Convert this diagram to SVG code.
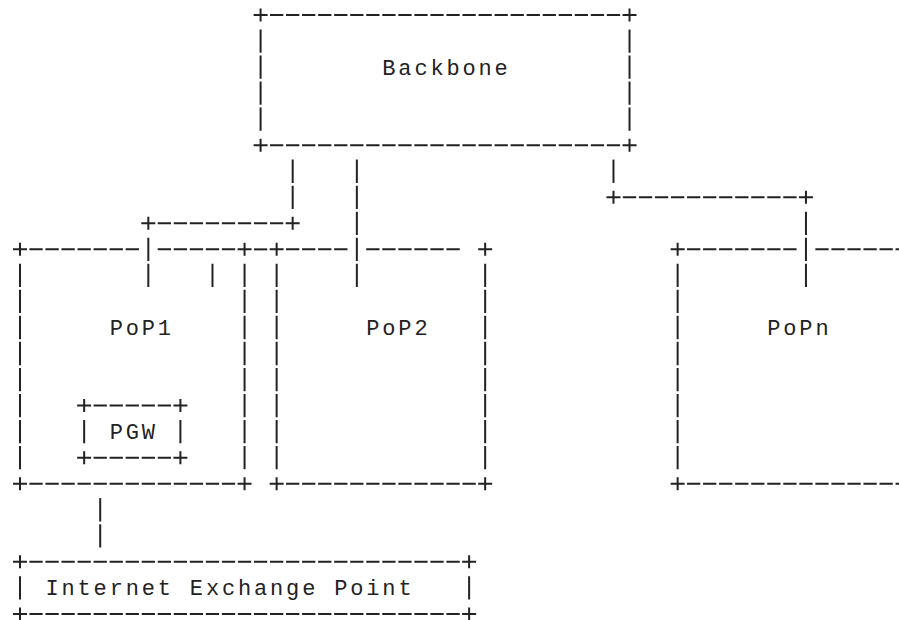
<svg xmlns="http://www.w3.org/2000/svg" xmlns:xlink="http://www.w3.org/1999/xlink" width="899" height="620" viewBox="0 0 899 620">
<style>
.h{stroke:#222;stroke-width:2;fill:none;stroke-dasharray:13.3 2.74}
.v{stroke:#222;stroke-width:2;fill:none;stroke-dasharray:23.3 2.74}
.p{stroke:#222;stroke-width:2;fill:none}
.t{font-family:"Liberation Mono","DejaVu Sans Mono",monospace;font-size:22px;letter-spacing:2.84px;fill:#222}
</style>
<defs>
<path id="plus" class="p" d="M-7 0H7M0-6.5V6.5"/>
</defs>
<rect width="899" height="620" fill="#fff"/>
<g id="connectors">
<!-- Backbone to PoP1 -->
<line class="v" x1="292.68" y1="159.59" x2="292.68" y2="208.93"/>
<use href="#plus" x="292.68" y="223.32"/>
<line class="h" x1="157.71" y1="223.32" x2="285.33" y2="223.32"/>
<use href="#plus" x="148.32" y="223.32"/>
<line class="v" x1="148.32" y1="237.71" x2="148.32" y2="287.05"/>
<!-- Backbone to PoP2 -->
<line class="v" x1="356.84" y1="159.59" x2="356.84" y2="287.05"/>
<!-- Backbone to PoPn -->
<line class="v" x1="613.48" y1="159.59" x2="613.48" y2="182.89"/>
<use href="#plus" x="613.48" y="197.28"/>
<line class="h" x1="622.87" y1="197.28" x2="796.57" y2="197.28"/>
<use href="#plus" x="805.96" y="197.28"/>
<line class="v" x1="805.96" y1="211.67" x2="805.96" y2="287.05"/>
<!-- PoP1 to IXP -->
<line class="v" x1="100.2" y1="498.11" x2="100.2" y2="547.45"/>
<!-- joining dash between PoP1 and PoP2 -->
<line class="h" x1="253.95" y1="249.36" x2="267.25" y2="249.36"/>
</g>
<g id="backbone">
<use href="#plus" x="260.6" y="15"/>
<use href="#plus" x="629.52" y="15"/>
<use href="#plus" x="260.6" y="145.2"/>
<use href="#plus" x="629.52" y="145.2"/>
<line class="h" x1="269.99" y1="15" x2="620.13" y2="15"/>
<line class="h" x1="269.99" y1="145.2" x2="620.13" y2="145.2"/>
<line class="v" x1="260.6" y1="29.39" x2="260.6" y2="130.81"/>
<line class="v" x1="629.52" y1="29.39" x2="629.52" y2="130.81"/>
<text class="t" x="382.3" y="74.6">Backbone</text>
</g>
<g id="pop1">
<use href="#plus" x="20" y="249.36"/>
<use href="#plus" x="244.56" y="249.36"/>
<use href="#plus" x="20" y="483.72"/>
<use href="#plus" x="244.56" y="483.72"/>
<line class="h" x1="29.39" y1="249.36" x2="139.0" y2="249.36"/>
<line class="h" x1="157.71" y1="249.36" x2="235.17" y2="249.36"/>
<line class="h" x1="29.39" y1="483.72" x2="235.17" y2="483.72"/>
<line class="v" x1="20" y1="263.75" x2="20" y2="469.33"/>
<line class="v" x1="244.56" y1="263.75" x2="244.56" y2="469.33"/>
<line class="v" x1="212.48" y1="263.75" x2="212.48" y2="287.05"/>
<text class="t" x="109.64" y="335">PoP1</text>
</g>
<g id="pgw">
<use href="#plus" x="84.16" y="405.6"/>
<use href="#plus" x="180.4" y="405.6"/>
<use href="#plus" x="84.16" y="457.68"/>
<use href="#plus" x="180.4" y="457.68"/>
<line class="h" x1="93.55" y1="405.6" x2="171.01" y2="405.6"/>
<line class="h" x1="93.55" y1="457.68" x2="171.01" y2="457.68"/>
<line class="v" x1="84.16" y1="419.99" x2="84.16" y2="443.29"/>
<line class="v" x1="180.4" y1="419.99" x2="180.4" y2="443.29"/>
<text class="t" x="109.64" y="439.1">PGW</text>
</g>
<g id="pop2">
<use href="#plus" x="276.64" y="249.36"/>
<use href="#plus" x="485.16" y="249.36"/>
<use href="#plus" x="276.64" y="483.72"/>
<use href="#plus" x="485.16" y="483.72"/>
<line class="h" x1="286.03" y1="249.36" x2="347.45" y2="249.36"/>
<line class="h" x1="366.23" y1="249.36" x2="459.73" y2="249.36"/>
<line class="h" x1="286.03" y1="483.72" x2="475.77" y2="483.72"/>
<line class="v" x1="276.64" y1="263.75" x2="276.64" y2="469.33"/>
<line class="v" x1="485.16" y1="263.75" x2="485.16" y2="469.33"/>
<text class="t" x="366.28" y="335">PoP2</text>
</g>
<g id="popn">
<use href="#plus" x="677.64" y="249.36"/>
<use href="#plus" x="677.64" y="483.72"/>
<line class="h" x1="687.03" y1="249.36" x2="796.57" y2="249.36"/>
<line class="h" x1="815.35" y1="249.36" x2="908.85" y2="249.36"/>
<line class="h" x1="687.03" y1="483.72" x2="908.85" y2="483.72"/>
<line class="v" x1="677.64" y1="263.75" x2="677.64" y2="469.33"/>
<text class="t" x="767.28" y="335">PoPn</text>
</g>
<g id="ixp">
<use href="#plus" x="20" y="561.84"/>
<use href="#plus" x="469.12" y="561.84"/>
<use href="#plus" x="20" y="613.92"/>
<use href="#plus" x="469.12" y="613.92"/>
<line class="h" x1="29.39" y1="561.84" x2="459.73" y2="561.84"/>
<line class="h" x1="29.39" y1="613.92" x2="459.73" y2="613.92"/>
<line class="v" x1="20" y1="576.23" x2="20" y2="599.53"/>
<line class="v" x1="469.12" y1="576.23" x2="469.12" y2="599.53"/>
<text class="t" x="45.48" y="595.4">Internet Exchange Point</text>
</g>
</svg>
